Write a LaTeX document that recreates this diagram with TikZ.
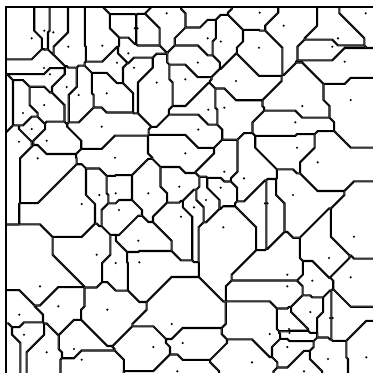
\documentclass[tikz,border=0pt]{standalone}
\begin{document}
\begin{tikzpicture}[x=1pt,y=-1pt]
\useasboundingbox (0,0) rectangle (373,373);
% x/y/visible : sites of an L1 (Manhattan) Voronoi diagram
\def\sitelist{31.7/38.3/1, 44.3/30.7/1, 53.3/32.3/1, 68.3/46.7/1, 44/68/1, 50/74.2/1, 66.7/87/1, 78.7/95/1, 106.7/93.3/1, 117/62.7/1,
128.3/53.3/1, 44.2/105/1, 23/113/1, 31.7/129/1, 101.7/126.7/1, 166.7/13.3/1, 134.8/28.3/1, 137.6/28.3/1, 102.3/45.7/1, 134/67.7/1, 156.7/82.5/1,
207.7/38.3/1, 220.8/41.5/1, 197.8/62.5/1, 185.3/79.3/1, 236/81/1, 208.3/109.7/1, 224.3/107.7/1, 198.3/129.5/1, 259.7/12.7/1, 283.7/25.7/1,
259/47.7/1, 338/38.3/1, 332.3/46.7/1, 365.7/13.3/1, 344.7/61.7/1, 302.3/106/1, 350.7/100/1, 295.3/122.3/1, 19/141.7/1, 46.7/140.7/1,
37.7/158.3/1, 115/157.7/1, 99.3/195/1, 115.7/193.3/1, 81.7/204/1, 119/210/1, 185.3/153.3/1, 224.3/171.7/1, 244/178.3/1, 148.3/193.3/1,
179.3/186.7/1, 220.7/187.7/1, 206/200/1, 194/207.3/1, 181/216.7/1, 223.3/227.3/1, 138.3/240.7/1, 297/147.7/1, 317.7/162.3/1, 293/195/1,
265/203.3/1, 267.6/203.3/1, 354/236.7/1, 96.7/254.7/1, 115.7/263/1, 40/286.3/1, 58.3/306.3/1, 107.3/309.7/1, 19.3/314.7/1, 24/334.7/1, 46.7/352.3/1,
74/349/1, 81.7/359.7/1, 139.3/262.3/1, 171.7/324/1, 153.3/347/1, 182.7/343/1, 177.3/371.3/1, 329/258/1, 350.7/277.3/1, 312.3/280.7/1,
287.3/274.7/1, 287.3/286.3/1, 310.3/312/1, 269.7/334/1, 287.3/347/1, 252/362.3/1, 328/359/1, 366.3/357.3/1, 304/371.3/1,
330/318/1, 332.6/318/1, 289/329/1, 289.5/333/1, 136/1/0, 200/9/0, 3/113/0, 8.3/343/0}
\tikzset{edge/.style={line width=2.1pt,line join=miter}, site/.style={fill=black}}
\begin{scope}
\clip (6,7) rectangle (400,400);
\foreach \Px/\Py/\Pd [count=\Ni] in \sitelist {
  \begin{scope}
  \gdef\Bis{}
  \foreach \Qx/\Qy/\Qd [count=\Nj] in \sitelist {
    \ifnum\Ni=\Nj\else
      \pgfmathsetmacro\Dx{\Qx-\Px}
      \pgfmathsetmacro\Dy{\Qy-\Py}
      \pgfmathsetmacro\Adx{abs(\Dx)}
      \pgfmathsetmacro\Ady{abs(\Dy)}
      \pgfmathtruncatemacro\Far{(\Adx+\Ady>170)?1:0}
      \ifnum\Far=0
        \pgfmathtruncatemacro\Vt{(\Adx>=\Ady)?1:0}
        \ifnum\Vt=1
          \pgfmathsetmacro\Mm{(\Px+\Qx)/2}
          \pgfmathsetmacro\Sg{(\Dx>=0)?1:-1}
          \pgfmathsetmacro\Aa{\Mm+(\Sg)*\Ady/2}
          \pgfmathsetmacro\Bb{\Mm-(\Sg)*\Ady/2}
          \pgfmathsetmacro\Sd{(\Dx>=0)?-1000:1000}
          \pgfmathtruncatemacro\Tp{(\Py<=\Qy)?1:0}
          \ifnum\Tp=1
            \xdef\Pth{(\Aa,-1000)--(\Aa,\Py)--(\Bb,\Qy)--(\Bb,1000)}
          \else
            \xdef\Pth{(\Bb,-1000)--(\Bb,\Qy)--(\Aa,\Py)--(\Aa,1000)}
          \fi
          \clip \Pth -- (\Sd,1000) -- (\Sd,-1000) -- cycle;
        \else
          \pgfmathsetmacro\Mm{(\Py+\Qy)/2}
          \pgfmathsetmacro\Sg{(\Dy>=0)?1:-1}
          \pgfmathsetmacro\Aa{\Mm+(\Sg)*\Adx/2}
          \pgfmathsetmacro\Bb{\Mm-(\Sg)*\Adx/2}
          \pgfmathsetmacro\Sd{(\Dy>=0)?-1000:1000}
          \pgfmathtruncatemacro\Tp{(\Px<=\Qx)?1:0}
          \ifnum\Tp=1
            \xdef\Pth{(-1000,\Aa)--(\Px,\Aa)--(\Qx,\Bb)--(1000,\Bb)}
          \else
            \xdef\Pth{(-1000,\Bb)--(\Qx,\Bb)--(\Px,\Aa)--(1000,\Aa)}
          \fi
          \clip \Pth -- (1000,\Sd) -- (-1000,\Sd) -- cycle;
        \fi
        \xdef\Bis{\Bis \Pth}
      \fi
    \fi
  }
  \draw[edge] \Bis;
  \end{scope}
}
\end{scope}
\foreach \Px/\Py/\Pd in \sitelist {\ifnum\Pd=1 \fill[site] (\Px,\Py) circle (1.2pt);\fi}
\draw[edge] (6,380) -- (6,7) -- (380,7);
\end{tikzpicture}
\end{document}
